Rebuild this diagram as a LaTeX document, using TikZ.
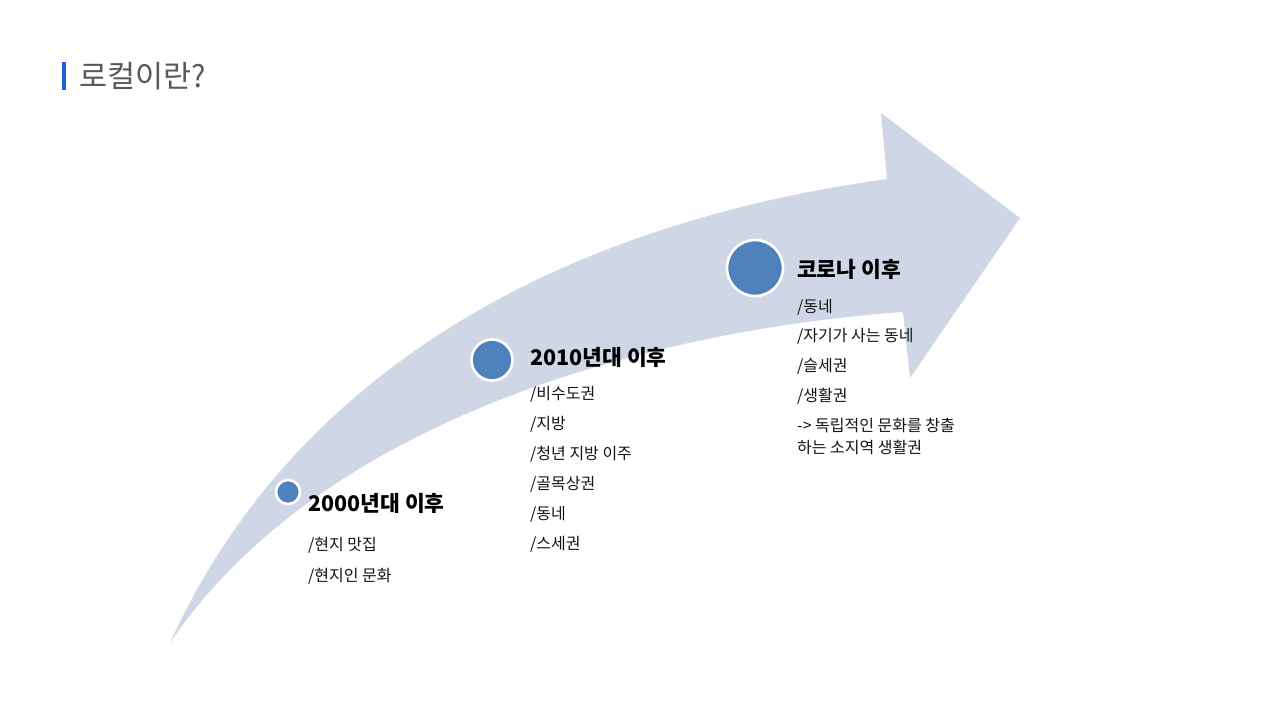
\documentclass[tikz,border=0pt]{standalone}
\usepackage{fontspec}
\setmainfont{Noto Sans CJK KR}
\newfontfamily\kr{Noto Sans CJK KR}
\definecolor{arrowfill}{RGB}{207,215,231}
\definecolor{dotblue}{RGB}{79,129,189}
\definecolor{barblue}{RGB}{32,92,222}
\definecolor{titlegray}{RGB}{89,89,89}
\definecolor{txt}{RGB}{20,20,20}
\tikzset{
  dot/.style={circle, fill=dotblue, draw=white, line width=2.6pt, inner sep=0pt},
  heading/.style={anchor=base west, inner sep=0pt, font=\kr\bfseries\fontsize{21.5}{25}\selectfont, text=black},
  item/.style={anchor=base west, inner sep=0pt, font=\kr\fontsize{16}{19}\selectfont, text=txt},
}
\begin{document}
\begin{tikzpicture}[x=1pt,y=-1pt]
\useasboundingbox (0,0) rectangle (1280,720);
\fill[white] (0,0) rectangle (1280,720);
% title
\fill[barblue] (62,62) rectangle (65.5,90);
\node[anchor=base west, inner sep=0pt, font=\kr\fontsize{30.5}{36}\selectfont, text=titlegray] (title) at (79,87.5) {로컬이란?};
% arrow
\fill[arrowfill] (170,643) .. controls (280,400) and (520,230) .. (887,179)
  -- (881,113) -- (1020,218) -- (910,378) -- (903,312)
  .. controls (650,330) and (320,420) .. (170,643) -- cycle;
% dots
\node[dot, minimum size=24pt] (d1) at (288,492) {};
\node[dot, minimum size=41pt] (d2) at (492,360) {};
\node[dot, minimum size=56pt] (d3) at (755,268) {};
% 2000
\node[heading] (h1) at (308,511) {2000년대 이후};
\node[item] (a1) at (308,550) {/현지 맛집};
\node[item] (a2) at (308,581) {/현지인 문화};
% 2010
\node[heading] (h2) at (530,365) {2010년대 이후};
\node[item] (b1) at (530,399) {/비수도권};
\node[item] (b2) at (530,429) {/지방};
\node[item] (b3) at (530,459) {/청년 지방 이주};
\node[item] (b4) at (530,489) {/골목상권};
\node[item] (b5) at (530,519) {/동네};
\node[item] (b6) at (530,549) {/스세권};
% corona
\node[heading] (h3) at (797,277) {코로나 이후};
\node[item] (c1) at (797,312) {/동네};
\node[item] (c2) at (797,341) {/자기가 사는 동네};
\node[item] (c3) at (797,371) {/슬세권};
\node[item] (c4) at (797,401) {/생활권};
\node[item] (c5) at (797,431) {-> 독립적인 문화를 창출};
\node[item] (c6) at (797,453) {하는 소지역 생활권};
\end{tikzpicture}
\end{document}
